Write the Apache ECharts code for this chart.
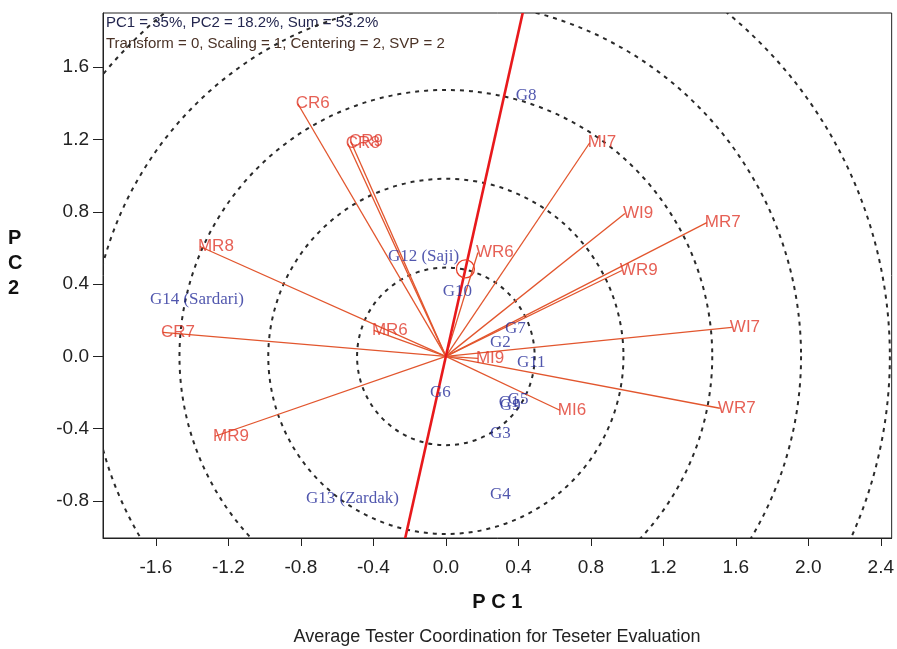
<!DOCTYPE html>
<html>
<head>
<meta charset="utf-8">
<script src="https://cdn.jsdelivr.net/npm/echarts@6/dist/echarts.min.js"></script>
<style>
  html, body { margin: 0; padding: 0; background: #ffffff; }
  #chart { width: 897px; height: 649px; }
</style>
</head>
<body>
<div id="chart"></div>
<script>
// Tester (environment) vectors: PC1 / PC2 scores
const testerNames = ['CR6', 'CR8', 'CR9', 'MR8', 'CR7', 'MR6', 'MR9', 'MI7', 'WI9', 'MR7', 'WR9', 'WR6', 'WI7', 'WR7', 'MI6', 'MI9'];
const testerPC1 = [-0.817, -0.541, -0.524, -1.357, -1.561, -0.397, -1.274, 0.794, 0.988, 1.440, 0.971, 0.177, 1.578, 1.512, 0.629, 0.177];
const testerPC2 = [1.398, 1.177, 1.188, 0.608, 0.133, 0.144, -0.442, 1.182, 0.790, 0.740, 0.475, 0.575, 0.160, -0.287, -0.298, -0.011];

// Genotype markers: PC1 / PC2 scores
const genotypeNames = ['G8', 'G12 (Saji)', 'G14 (Sardari)', 'G10', 'G7', 'G2', 'G11', 'G6', 'G1', 'G9', 'G5', 'G3', 'G4', 'G13 (Zardak)'];
const genotypePC1 = [0.386, -0.320, -1.633, -0.017, 0.326, 0.243, 0.392, -0.088, 0.292, 0.298, 0.342, 0.243, 0.243, -0.772];
const genotypePC2 = [1.442, 0.552, 0.315, 0.359, 0.155, 0.077, -0.033, -0.199, -0.254, -0.271, -0.238, -0.425, -0.762, -0.785];

// Concentric distance rings around the biplot origin
const circleRadii = [0.49, 0.98, 1.47, 1.96, 2.45];

// Average tester coordinate (defines the ATC axis through the origin)
const averageTester = [0.108, 0.484];

// Axis tick positions
const xTicks = [-1.6, -1.2, -0.8, -0.4, 0.0, 0.4, 0.8, 1.2, 1.6, 2.0, 2.4];
const yTicks = [-0.8, -0.4, 0.0, 0.4, 0.8, 1.2, 1.6];

const statsLine = 'PC1 = 35%, PC2 = 18.2%, Sum = 53.2%';
const settingsLine = 'Transform = 0, Scaling = 1, Centering = 2, SVP = 2';
const chartTitle = 'Average Tester Coordination for Teseter Evaluation';

const chart = echarts.init(document.getElementById('chart'), null, { renderer: 'canvas' });

function gridClip(params) {
  const cs = params.coordSys;
  return { type: 'rect', shape: { x: cs.x, y: cs.y, width: cs.width, height: cs.height } };
}

const option = {
  backgroundColor: '#ffffff',
  animation: false,
  grid: {
    left: 103, right: 5, top: 13, bottom: 111,
    show: true, borderColor: '#222', borderWidth: 1, backgroundColor: 'transparent'
  },
  xAxis: {
    type: 'value', min: -1.892, max: 2.46,
    name: 'P C 1', nameLocation: 'middle', nameGap: 54,
    nameTextStyle: { fontFamily: 'Liberation Sans', fontWeight: 'bold', fontSize: 20, color: '#111' },
    axisLine: { show: true, onZero: false, lineStyle: { color: '#222', width: 1 } },
    axisTick: { show: true, length: 8, inside: false, customValues: xTicks, lineStyle: { color: '#222' } },
    axisLabel: {
      customValues: xTicks, margin: 20,
      formatter: v => v.toFixed(1),
      fontFamily: 'Liberation Sans', fontSize: 19, color: '#222'
    },
    splitLine: { show: false }
  },
  yAxis: {
    type: 'value', min: -1.005, max: 1.90,
    axisLine: { show: true, onZero: false, lineStyle: { color: '#222', width: 1 } },
    axisTick: { show: true, length: 10, inside: false, customValues: yTicks, lineStyle: { color: '#222' } },
    axisLabel: {
      customValues: yTicks, margin: 14,
      formatter: v => v.toFixed(1),
      fontFamily: 'Liberation Sans', fontSize: 19, color: '#222'
    },
    splitLine: { show: false }
  },
  graphic: [
    {
      type: 'text', left: 106, top: 15,
      style: { text: statsLine, font: '15px "Liberation Sans"', fill: '#23264f' }
    },
    {
      type: 'text', left: 106, top: 36,
      style: { text: settingsLine, font: '15px "Liberation Sans"', fill: '#4a3226' }
    },
    {
      type: 'text', left: 8, top: 226,
      style: { text: 'P\nC\n2', font: 'bold 20px "Liberation Sans"', fill: '#111', lineHeight: 25, align: 'center' }
    },
    {
      type: 'text', x: 497, y: 637,
      style: { text: chartTitle, font: '18px "Liberation Sans"', fill: '#222', align: 'center', verticalAlign: 'middle' }
    }
  ],
  series: [
    {
      // dashed distance rings
      type: 'custom', z: 1, silent: true,
      data: circleRadii.map(r => [r]),
      encode: { x: 0 },
      renderItem: (params, api) => {
        const c = api.coord([0, 0]);
        const r = api.size([api.value(0), 0])[0];
        return {
          type: 'circle',
          shape: { cx: c[0], cy: c[1], r: r },
          style: { fill: 'none', stroke: '#2a2a2a', lineWidth: 2, lineDash: [4, 5] },
          clipPath: gridClip(params)
        };
      }
    },
    {
      // tester vectors from origin
      type: 'lines', coordinateSystem: 'cartesian2d', z: 2, silent: true,
      lineStyle: { color: '#e2562e', width: 1.3, opacity: 1 },
      data: testerNames.map((n, i) => ({ coords: [[0, 0], [testerPC1[i], testerPC2[i]]] }))
    },
    {
      // ATC axis through the average tester, plus its marker ring
      type: 'custom', z: 3, silent: true,
      data: [averageTester],
      encode: { x: 0, y: 1 },
      renderItem: (params, api) => {
        const ax = api.value(0), ay = api.value(1);
        const p1 = api.coord([ax * -3, ay * -3]);
        const p2 = api.coord([ax * 5, ay * 5]);
        const pc = api.coord([ax, ay]);
        return {
          type: 'group',
          clipPath: gridClip(params),
          children: [
            { type: 'line', shape: { x1: p1[0], y1: p1[1], x2: p2[0], y2: p2[1] },
              style: { stroke: '#e8191c', lineWidth: 2.6 } },
            { type: 'circle', shape: { cx: pc[0], cy: pc[1], r: 9 },
              style: { fill: 'none', stroke: '#e8402a', lineWidth: 1.3 } }
          ]
        };
      }
    },
    {
      // tester labels
      type: 'scatter', z: 4, symbolSize: 0, silent: true,
      data: testerNames.map((n, i) => ({ name: n, value: [testerPC1[i], testerPC2[i]] })),
      label: {
        show: true, position: 'right', distance: -2,
        formatter: p => p.name,
        fontFamily: 'Liberation Sans', fontSize: 17, color: '#e0382a'
      }
    },
    {
      // genotype labels
      type: 'scatter', z: 5, symbolSize: 0, silent: true,
      data: genotypeNames.map((n, i) => ({ name: n, value: [genotypePC1[i], genotypePC2[i]] })),
      label: {
        show: true, position: 'right', distance: 0,
        formatter: p => p.name,
        fontFamily: 'Liberation Serif', fontSize: 17, color: '#262d9a'
      }
    }
  ]
};

chart.setOption(option);
</script>
</body>
</html>
